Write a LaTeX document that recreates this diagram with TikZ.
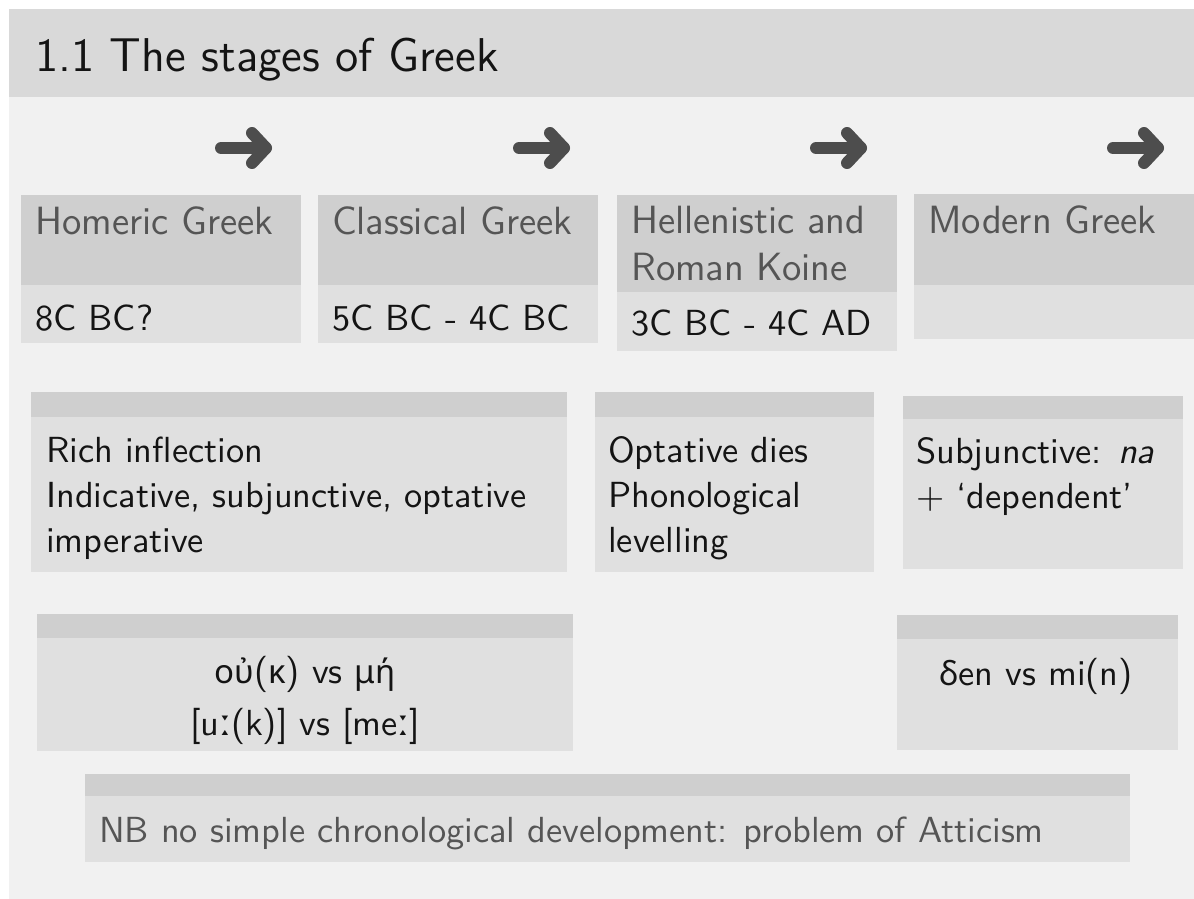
\documentclass[tikz,border=0pt]{standalone}
\usepackage{fontspec}
\setsansfont{lmsans10-regular.otf}[ItalicFont=lmsans10-oblique.otf, BoldFont=lmsans10-bold.otf]
\newfontfamily\headfont{lmsans12-regular.otf}
\newfontfamily\greekfont{Noto Sans}
\definecolor{paper}{HTML}{F1F1F1}
\definecolor{titlebar}{HTML}{D9D9D9}
\definecolor{headgray}{HTML}{CFCFCF}
\definecolor{bodygray}{HTML}{E0E0E0}
\definecolor{headtext}{HTML}{555555}
\definecolor{bodytext}{HTML}{141414}
\definecolor{arrowgray}{HTML}{4D4D4D}

\tikzset{
  panelhead/.style={fill=headgray, draw=none, inner sep=0pt, outer sep=0pt, anchor=north west},
  panelbody/.style={fill=bodygray, draw=none, inner sep=0pt, outer sep=0pt, anchor=north west},
  headlabel/.style={inner sep=0pt, anchor=base west, text=headtext, font=\headfont\fontsize{39.4}{47}\selectfont},
  bodylabel/.style={inner sep=0pt, anchor=base west, text=bodytext, font=\sffamily\fontsize{36.3}{45}\selectfont},
  centerlabel/.style={bodylabel, anchor=base},
  notelabel/.style={bodylabel, text=headtext},
  stagearrow/.style={draw=arrowgray, line width=12pt, line cap=round, line join=round}
}

% a panel: name, left, top, right, header bottom, bottom
\newcommand{\panel}[6]{%
  \node[panelhead, minimum width={#4-#2}, minimum height={#5-#3}] (#1h) at (#2,#3) {};
  \node[panelbody, minimum width={#4-#2}, minimum height={#6-#5}] (#1b) at (#2,#5) {};
}
% a heavy rounded arrow starting at x = #1
\newcommand{\stagearr}[1]{%
  \draw[stagearrow] (#1+6,148) -- (#1+51,148);
  \draw[stagearrow] (#1+37,133) -- (#1+51,148) -- (#1+37,163);
}
\newcommand{\gk}[1]{{\greekfont\fontsize{33}{45}\selectfont #1}}

\begin{document}
\begin{tikzpicture}[x=1pt, y=-1pt]
\useasboundingbox (0,0) rectangle (1194,899);
\fill[white] (0,0) rectangle (1194,899);
\fill[paper] (9,9) rectangle (1194,899);
\fill[titlebar] (9,9) rectangle (1194,97);
\node[inner sep=0pt, anchor=base west, text=bodytext, font=\headfont\fontsize{47.4}{56}\selectfont] (title) at (35,72) {1.1 The stages of Greek};

% arrows above the stages
\stagearr{215}
\stagearr{513}
\stagearr{810}
\stagearr{1107}

% stages
\panel{homer}{21}{195}{301}{285}{343}
\panel{classical}{318}{195}{598}{285}{343}
\panel{koine}{617}{195}{897}{292}{351}
\panel{modern}{914}{194}{1194}{285}{339}

\node[headlabel] (homerT) at (35,234) {Homeric Greek};
\node[headlabel] (classicalT) at (332,234) {Classical Greek};
\node[headlabel] (koineT1) at (631,233) {Hellenistic and};
\node[headlabel] (koineT2) at (631,280) {Roman Koine};
\node[headlabel] (modernT) at (928,233) {Modern Greek};

\node[bodylabel] (homerD) at (35,330) {8C BC?};
\node[bodylabel] (classicalD) at (332,330) {5C BC - 4C BC};
\node[bodylabel] (koineD) at (631,335) {3C BC - 4C AD};

% features
\panel{rich}{31}{392}{567}{417}{572}
\panel{opt}{595}{392}{874}{417}{572}
\panel{subj}{903}{396}{1183}{419}{569}

\node[bodylabel] (rich1) at (46,462) {Rich inflection};
\node[bodylabel] (rich2) at (46,507) {Indicative, subjunctive, optative};
\node[bodylabel] (rich3) at (46,552) {imperative};

\node[bodylabel] (opt1) at (608,462) {Optative dies};
\node[bodylabel] (opt2) at (608,507) {Phonological};
\node[bodylabel] (opt3) at (608,552) {levelling};

\node[bodylabel] (subj1) at (916,463) {Subjunctive: \textit{na}};
\node[bodylabel] (subj2) at (916,508) {+ `dependent'};

% negation
\panel{neg}{37}{614}{573}{638}{751}
\panel{negmod}{897}{615}{1178}{639}{750}

\node[centerlabel] (neg1) at (305,683) {\gk{οὐ}(\gk{κ}) vs \gk{μή}};
\node[centerlabel] (neg2) at (305,735) {[u{\greekfont ː}(k)] vs [me{\greekfont ː}]};
\node[centerlabel] (negmod1) at (1036,685) {\gk{δ}en vs mi(n)};

% note
\panel{note}{85}{774}{1130}{796}{862}
\node[notelabel] (noteT) at (99,842) {NB no simple chronological development: problem of Atticism};
\end{tikzpicture}
\end{document}
